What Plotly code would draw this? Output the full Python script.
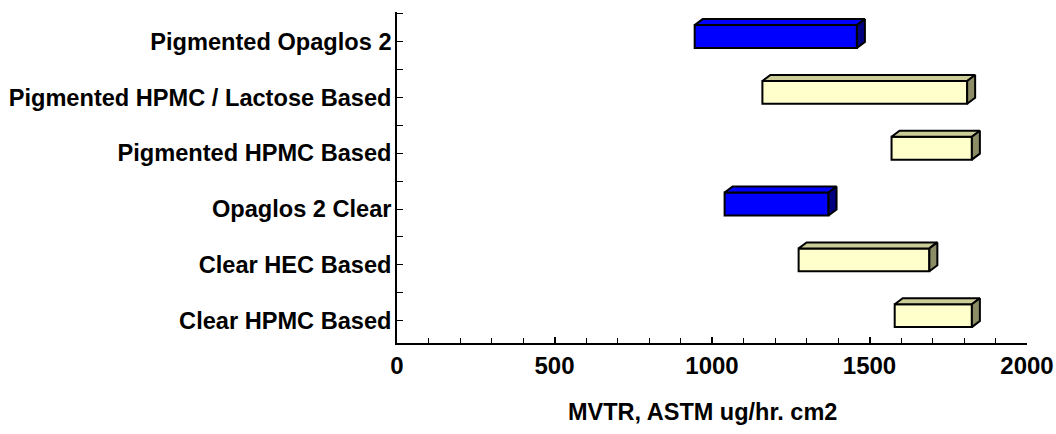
import plotly.graph_objects as go

categories = ["Clear HPMC Based", "Clear HEC Based", "Opaglos 2 Clear",
              "Pigmented HPMC Based", "Pigmented HPMC / Lactose Based", "Pigmented Opaglos 2"]
low_values = [1580, 1275, 1040, 1570, 1160, 945]
high_values = [1825, 1690, 1370, 1825, 1810, 1460]
coating_type = ["hpmc", "hpmc", "opaglos", "hpmc", "hpmc", "opaglos"]
x_title = "MVTR, ASTM ug/hr. cm2"

FRONT = {"hpmc": "#FFFFCC", "opaglos": "#0000FF"}
TOP = {"hpmc": "#CCCC99", "opaglos": "#0000FF"}
SIDE = {"hpmc": "#8C8C66", "opaglos": "#000080"}

BAR_W = 0.41
Y_SHIFT = 0.09
DX = 25.4      # depth in x data units
DY = 0.1075    # depth in y data units
FAMILY = "Liberation Sans, Arial, sans-serif"

fig = go.Figure()
idx = list(range(len(categories)))
ypos = [i + Y_SHIFT for i in idx]

fig.add_trace(go.Bar(
    orientation="h",
    y=ypos,
    base=low_values,
    x=[h - l for l, h in zip(low_values, high_values)],
    width=BAR_W,
    marker=dict(color=[FRONT[t] for t in coating_type], line=dict(color="black", width=2)),
    showlegend=False, hoverinfo="skip",
))

for y, lo, hi, t in zip(ypos, low_values, high_values, coating_type):
    yt = y + BAR_W / 2
    yb = y - BAR_W / 2
    fig.add_trace(go.Scatter(
        x=[lo, lo + DX, hi + DX, hi, lo],
        y=[yt, yt + DY, yt + DY, yt, yt],
        mode="lines", fill="toself", fillcolor=TOP[t],
        line=dict(color="black", width=2), showlegend=False, hoverinfo="skip",
    ))
    fig.add_trace(go.Scatter(
        x=[hi, hi + DX, hi + DX, hi, hi],
        y=[yt, yt + DY, yb + DY, yb, yt],
        mode="lines", fill="toself", fillcolor=SIDE[t],
        line=dict(color="black", width=2), showlegend=False, hoverinfo="skip",
    ))

fig.add_annotation(
    text="<b>" + x_title + "</b>", xref="paper", yref="paper",
    x=0.485, y=-0.2085, xanchor="center", yanchor="middle", showarrow=False,
    font=dict(family=FAMILY, size=23.5, color="black"),
)

fig.update_layout(
    width=1056, height=434,
    margin=dict(l=397, r=29, t=12, b=91),
    paper_bgcolor="white", plot_bgcolor="white",
    font=dict(family=FAMILY, size=23, color="black"),
    xaxis=dict(
        range=[0, 2000], dtick=500, tick0=0,
        showline=True, linecolor="black", linewidth=1.5,
        ticks="inside", ticklen=6, tickwidth=1.5, tickcolor="black",
        minor=dict(dtick=100, ticks="inside", ticklen=5, tickwidth=1.2, tickcolor="black"),
        showgrid=False, zeroline=False,
        tickfont=dict(family=FAMILY, size=24, color="black", weight="bold"),
        ticklabelstandoff=0,
        automargin=False,
    ),
    yaxis=dict(
        range=[-0.4, 5.53],
        tickmode="array", tickvals=idx, ticktext=categories,
        showline=True, linecolor="black", linewidth=1.5,
        ticks="inside", ticklen=6, tickwidth=1.2, tickcolor="black",
        minor=dict(dtick=0.5, tick0=0, ticks="inside", ticklen=6, tickwidth=1.2, tickcolor="black"),
        showgrid=False, zeroline=False,
        tickfont=dict(family=FAMILY, size=23.6, color="black", weight="bold"),
        ticklabelstandoff=-1,
        automargin=False,
    ),
)

fig.write_html("out.html")
